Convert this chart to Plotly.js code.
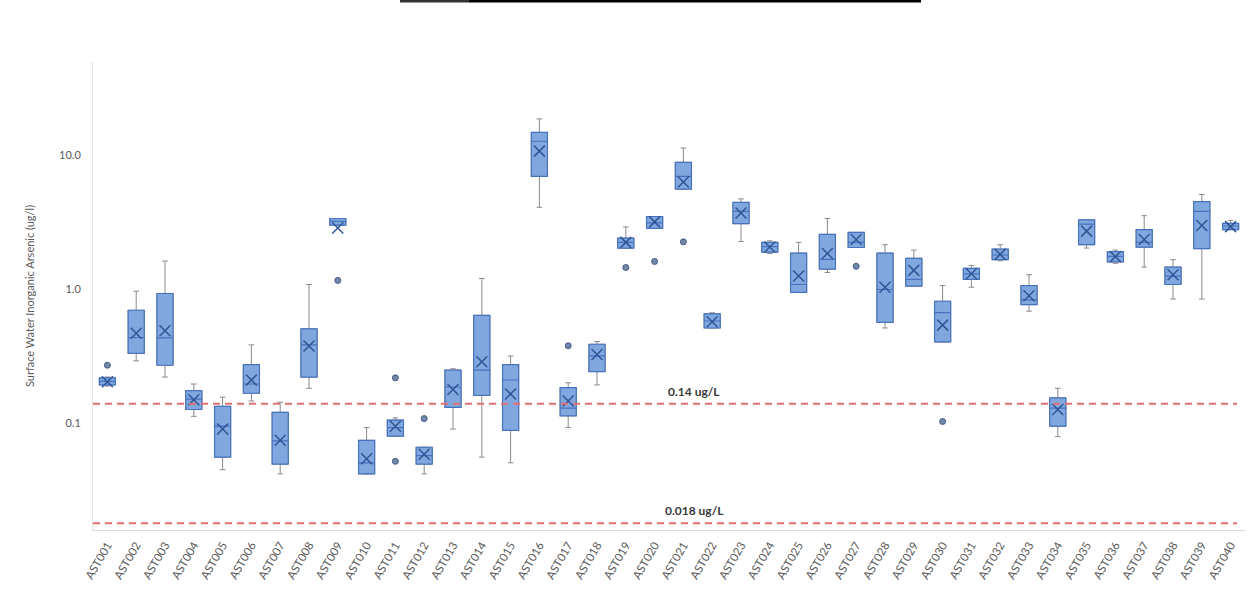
<!DOCTYPE html>
<html>
<head>
<meta charset="utf-8">
<script src="https://cdn.plot.ly/plotly-3.0.1.min.js"></script>
<style>
  html, body { margin: 0; padding: 0; background: #ffffff; }
  #chart { width: 1252px; height: 605px; }
</style>
</head>
<body>
<div id="chart"></div>
<script>
// Sampling sites
const sites = [
  'AST001','AST002','AST003','AST004','AST005','AST006','AST007','AST008','AST009','AST010',
  'AST011','AST012','AST013','AST014','AST015','AST016','AST017','AST018','AST019','AST020',
  'AST021','AST022','AST023','AST024','AST025','AST026','AST027','AST028','AST029','AST030',
  'AST031','AST032','AST033','AST034','AST035','AST036','AST037','AST038','AST039','AST040'
];

// Box statistics per site (ug/L)
const lowerWhisker = [0.19, 0.293, 0.222, 0.113, 0.0451, 0.147, 0.042, 0.183, 3.03, 0.042,
  0.0805, 0.042, 0.0908, 0.056, 0.0508, 4.11, 0.093, 0.194, 2.04, 2.86,
  5.62, 0.516, 2.28, 1.86, 0.953, 1.34, 2.06, 0.516, 1.06, 0.406,
  1.04, 1.64, 0.689, 0.0797, 2.04, 1.57, 1.47, 0.849, 0.849, 2.80];
const q1 = [0.194, 0.334, 0.272, 0.127, 0.056, 0.168, 0.0497, 0.222, 3.03, 0.042,
  0.0805, 0.0497, 0.132, 0.162, 0.0887, 7.0, 0.114, 0.244, 2.04, 2.86,
  5.62, 0.516, 3.10, 1.90, 0.953, 1.42, 2.06, 0.569, 1.06, 0.406,
  1.19, 1.67, 0.771, 0.0953, 2.16, 1.61, 2.07, 1.09, 2.02, 2.80];
const median = [0.206, 0.438, 0.436, 0.152, 0.0953, 0.197, 0.074, 0.386, 3.23, 0.0508,
  0.093, 0.0574, 0.187, 0.25, 0.211, 12.8, 0.13, 0.319, 2.25, 3.15,
  7.0, 0.582, 3.83, 2.09, 1.09, 1.68, 2.25, 1.0, 1.19, 0.673,
  1.31, 1.81, 0.837, 0.13, 3.08, 1.77, 2.25, 1.26, 3.83, 2.98];
const q3 = [0.219, 0.70, 0.934, 0.176, 0.134, 0.275, 0.121, 0.508, 3.39, 0.0748,
  0.106, 0.0664, 0.25, 0.641, 0.275, 14.9, 0.185, 0.39, 2.42, 3.51,
  8.91, 0.658, 4.47, 2.25, 1.87, 2.58, 2.67, 1.87, 1.71, 0.817,
  1.44, 2.0, 1.07, 0.155, 3.31, 1.92, 2.80, 1.47, 4.53, 3.12];
const upperWhisker = [0.222, 0.971, 1.63, 0.197, 0.157, 0.386, 0.144, 1.09, 3.39, 0.093,
  0.11, 0.0664, 0.256, 1.21, 0.319, 18.8, 0.201, 0.409, 2.93, 3.51,
  11.4, 0.67, 4.75, 2.31, 2.25, 3.39, 2.67, 2.16, 1.97, 1.07,
  1.51, 2.16, 1.29, 0.183, 3.31, 1.97, 3.56, 1.67, 5.12, 3.28];
const mean = [0.205, 0.471, 0.492, 0.15, 0.0908, 0.211, 0.0748, 0.378, 2.88, 0.0545,
  0.0953, 0.0588, 0.179, 0.289, 0.166, 10.8, 0.147, 0.327, 2.25, 3.2,
  6.35, 0.575, 3.73, 2.08, 1.26, 1.86, 2.36, 1.04, 1.39, 0.542,
  1.31, 1.83, 0.899, 0.127, 2.73, 1.76, 2.36, 1.29, 3.01, 2.95];

// Individual outlying results
const outlierSite = ['AST001','AST009','AST011','AST011','AST012','AST017','AST019','AST020','AST021','AST027','AST030'];
const outlierValue = [0.272, 1.17, 0.219, 0.0521, 0.1086, 0.38, 1.46, 1.62, 2.27, 1.49, 0.1034];

// Guideline levels
const guidelineValues = [0.14, 0.018];
const guidelineLabels = ['0.14 ug/L', '0.018 ug/L'];

const yTickVals = [0.1, 1, 10];
const yTickText = ['0.1', '1.0', '10.0'];

const boxBlue = 'rgb(70,114,190)';
const boxFill = 'rgb(128,168,222)';
const whiskerGrey = '#8a8a8a';
const boxWidth = 0.56;

const traces = [];

// Whiskers (full range) in grey
traces.push({
  type: 'box', x: sites,
  q1: q1, median: median, q3: q3,
  lowerfence: lowerWhisker, upperfence: upperWhisker,
  width: boxWidth, whiskerwidth: 0.35,
  line: { color: whiskerGrey, width: 1 },
  fillcolor: 'rgba(0,0,0,0)',
  boxpoints: false, hoverinfo: 'skip', showlegend: false
});

// Interquartile boxes on top
traces.push({
  type: 'box', x: sites,
  q1: q1, median: median, q3: q3,
  lowerfence: q1, upperfence: q3,
  width: boxWidth, whiskerwidth: 0,
  line: { color: boxBlue, width: 1.2 },
  fillcolor: boxFill,
  boxpoints: false, hoverinfo: 'skip', showlegend: false
});

// Mean markers
traces.push({
  type: 'scatter', mode: 'markers', x: sites, y: mean,
  marker: { symbol: 'x-thin-open', size: 11, color: 'rgb(47,85,151)',
            line: { color: 'rgb(47,85,151)', width: 1.5 } },
  hoverinfo: 'skip', showlegend: false
});

// Outliers
traces.push({
  type: 'scatter', mode: 'markers', x: outlierSite, y: outlierValue,
  marker: { symbol: 'circle', size: 6, color: 'rgb(115,135,168)',
            line: { color: 'rgb(70,92,135)', width: 1 } },
  hoverinfo: 'skip', showlegend: false
});

// Guideline lines across the full plot width
guidelineValues.forEach(function (v) {
  traces.push({
    type: 'scatter', mode: 'lines', xaxis: 'x2', yaxis: 'y',
    x: [0, 0.993], y: [v, v],
    line: { color: 'rgb(226,112,112)', width: 2, dash: '7px,5px' },
    hoverinfo: 'skip', showlegend: false
  });
});

const annotations = guidelineValues.map(function (v, i) {
  return {
    xref: 'paper', yref: 'y',
    x: 0.522, y: Math.log10(v),
    text: '<b>' + guidelineLabels[i] + '</b>',
    showarrow: false, yanchor: 'bottom', yshift: 3,
    font: { family: 'Lato, "Open Sans", sans-serif', size: 12, color: '#3a3a3a' }
  };
});

const layout = {
  width: 1252, height: 605,
  margin: { l: 93, r: 7, t: 62, b: 75 },
  paper_bgcolor: '#ffffff', plot_bgcolor: '#ffffff',
  font: { family: 'Lato, "Open Sans", sans-serif', size: 11, color: '#595959' },
  boxmode: 'overlay',
  showlegend: false,
  xaxis: {
    type: 'category', range: [-0.5, 39.5],
    tickangle: -60, tickfont: { size: 11.5, color: '#595959' },
    showline: true, linecolor: '#d9d9d9', linewidth: 1,
    showgrid: false, ticks: 'outside', ticklen: 3, tickcolor: 'rgba(0,0,0,0)',
    fixedrange: true
  },
  xaxis2: {
    overlaying: 'x', range: [0, 1], visible: false, fixedrange: true
  },
  yaxis: {
    type: 'log',
    range: [Math.log10(0.016), Math.log10(50)],
    tickvals: yTickVals, ticktext: yTickText,
    tickfont: { size: 11, color: '#595959' },
    showline: true, linecolor: '#e3e3e3', linewidth: 1,
    showgrid: false, zeroline: false,
    ticks: 'outside', ticklen: 9, tickcolor: 'rgba(0,0,0,0)',
    title: { text: 'Surface Water Inorganic Arsenic (ug/l)', standoff: 22,
             font: { size: 11, color: '#595959' } },
    fixedrange: true
  },
  annotations: annotations,
  shapes: [
    { type: 'rect', xref: 'paper', yref: 'paper',
      x0: 0.2665, x1: 0.3264, y0: 1.127, y1: 1.133,
      line: { width: 0 }, fillcolor: '#333333' },
    { type: 'rect', xref: 'paper', yref: 'paper',
      x0: 0.3264, x1: 0.7188, y0: 1.127, y1: 1.133,
      line: { width: 0 }, fillcolor: '#000000' }
  ]
};

Plotly.newPlot('chart', traces, layout, { displayModeBar: false, staticPlot: true });
</script>
</body>
</html>
